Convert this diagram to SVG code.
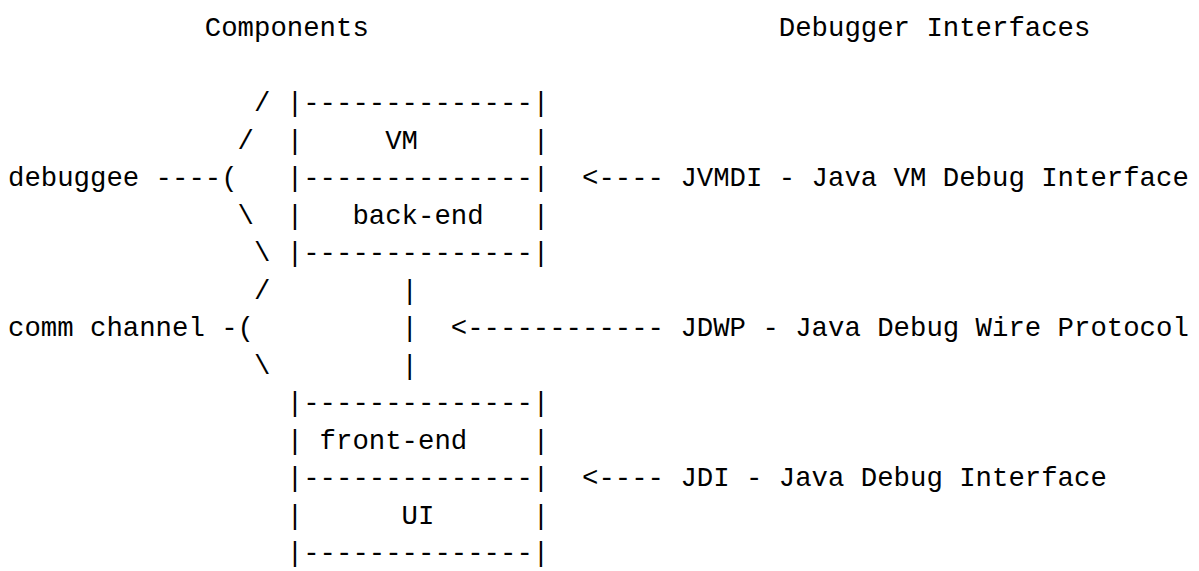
<svg xmlns="http://www.w3.org/2000/svg" width="1199" height="571" viewBox="0 0 1199 571">
<style>
text{font-family:"Liberation Mono","DejaVu Sans Mono",monospace;font-size:27.33px;fill:#000;white-space:pre}
</style>
<rect width="1199" height="571" fill="#fff"/>
<g id="headers">
<text x="204.8" y="36">Components</text>
<text x="778.8" y="36">Debugger Interfaces</text>
</g>
<g id="debuggee">
<text x="254" y="111">/</text>
<text x="237.6" y="148.5">/</text>
<text x="8" y="186">debuggee ----(</text>
<text x="237.6" y="223.5">\</text>
<text x="254" y="261">\</text>
</g>
<g id="comm-channel">
<text x="254" y="298.5">/</text>
<text x="8" y="336">comm channel -(</text>
<text x="254" y="373.5">\</text>
</g>
<g id="node-vm-backend">
<text x="286.8" y="111">|--------------|</text>
<text x="286.8" y="148.5">|     VM       |</text>
<text x="286.8" y="186">|--------------|</text>
<text x="286.8" y="223.5">|   back-end   |</text>
<text x="286.8" y="261">|--------------|</text>
</g>
<g id="node-frontend-ui">
<text x="286.8" y="411">|--------------|</text>
<text x="286.8" y="448.5">| front-end    |</text>
<text x="286.8" y="486">|--------------|</text>
<text x="286.8" y="523.5">|      UI      |</text>
<text x="286.8" y="561">|--------------|</text>
</g>
<g id="connectors">
<text x="401.6" y="298.5">|</text>
<text x="401.6" y="336">|</text>
<text x="401.6" y="373.5">|</text>
<text x="582" y="186">&lt;----</text>
<text x="450.8" y="336">&lt;------------</text>
<text x="582" y="486">&lt;----</text>
</g>
<g id="interface-labels">
<text x="680.4" y="186">JVMDI - Java VM Debug Interface</text>
<text x="680.4" y="336">JDWP - Java Debug Wire Protocol</text>
<text x="680.4" y="486">JDI - Java Debug Interface</text>
</g>
</svg>
